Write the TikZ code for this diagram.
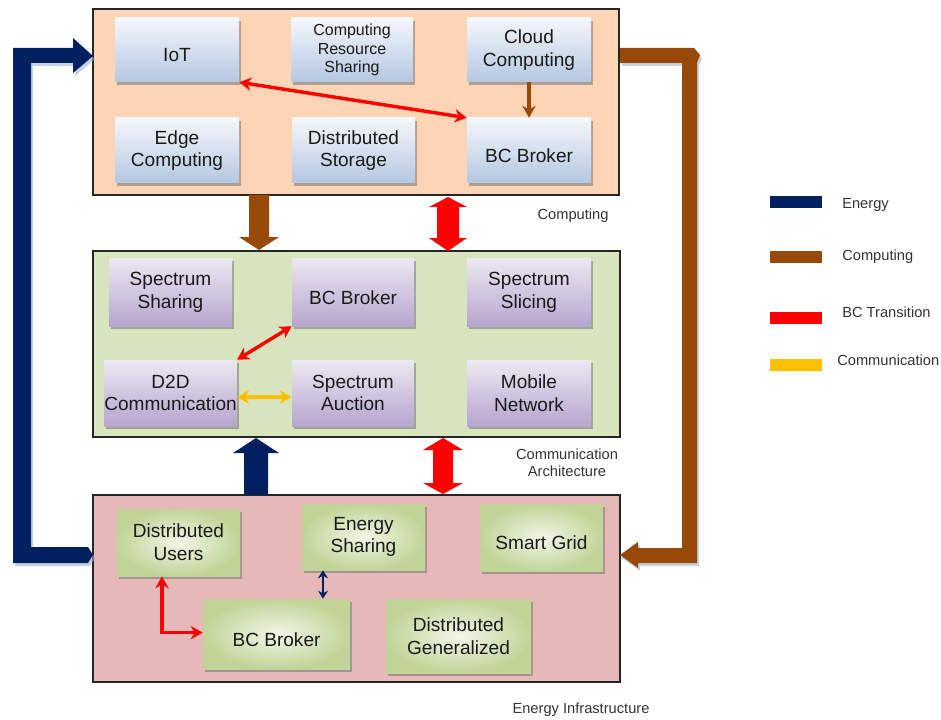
\documentclass[tikz,border=0pt]{standalone}
\usepackage{fontspec}
\setmainfont{Liberation Sans}
\usetikzlibrary{arrows.meta,shadows}
\definecolor{navy}{HTML}{002060}
\definecolor{brn}{HTML}{984807}
\definecolor{redc}{HTML}{FF0000}
\definecolor{gold}{HTML}{FFC000}
\definecolor{peach}{HTML}{FBD5B5}
\definecolor{lgreen}{HTML}{D7E4BD}
\definecolor{pinkc}{HTML}{E6B9B8}
\definecolor{txt}{HTML}{1A1A1A}
\definecolor{lbltxt}{HTML}{333333}
\definecolor{bluetop}{HTML}{F5F7FB}
\definecolor{bluebot}{HTML}{B4C7E1}
\definecolor{purtop}{HTML}{ECE8F2}
\definecolor{purbot}{HTML}{B6A5CE}
\definecolor{grin}{HTML}{F2F6E8}
\definecolor{grout}{HTML}{C0D497}
\definecolor{shad}{HTML}{9FB3C8}
\newcommand{\oneline}[1]{\raisebox{-4pt}[\height][\depth]{#1}}
\tikzset{
  panel/.style={draw=black!85, line width=1.1pt, inner sep=0pt},
  boxbase/.style={inner sep=0pt, align=center, text=txt,
     font=\fontsize{14.3}{17}\selectfont,
     drop shadow={shadow xshift=1.6pt, shadow yshift=-2.4pt, fill=black!55, opacity=0.55}},
  bluebox/.style={boxbase, top color=bluetop, bottom color=bluebot},
  purplebox/.style={boxbase, top color=purtop, bottom color=purbot},
  greenbox/.style={boxbase, inner color=grin, outer color=grout},
  lbl/.style={text=lbltxt, font=\fontsize{11}{13}\selectfont, align=center, inner sep=0pt},
  legbar/.style={minimum width=39pt, minimum height=9pt, inner sep=0pt},
  thinred/.style={draw=redc, line width=2.6pt, {Stealth[length=9pt,width=10pt]}-{Stealth[length=9pt,width=10pt]}},
}
\begin{document}
\begin{tikzpicture}[x=0.75pt,y=-0.75pt]
\useasboundingbox (0,0) rectangle (941,720);
\fill[white] (0,0) rectangle (941,720);

% panels
\node[panel, fill=peach, minimum width=394.5pt, minimum height=139.5pt] (ptop) at (356,102) {};
\node[panel, fill=lgreen, minimum width=395.25pt, minimum height=139.5pt] (pmid) at (356.5,344) {};
\node[panel, fill=pinkc, minimum width=395.25pt, minimum height=140.25pt] (pbot) at (356.5,588.5) {};

% top boxes
\node[bluebox, minimum width=93pt, minimum height=48pt] (iot) at (177,50) {\oneline{IoT}};
\node[bluebox, minimum width=91.5pt, minimum height=48pt, font=\fontsize{12}{14}\selectfont] (crs) at (352,50) {Computing\\Resource\\Sharing};
\node[bluebox, minimum width=93pt, minimum height=48pt] (cloud) at (529,50) {Cloud\\Computing};
\node[bluebox, minimum width=93pt, minimum height=48.75pt] (edge) at (177,150.5) {Edge\\Computing};
\node[bluebox, minimum width=92.25pt, minimum height=48.75pt] (dstor) at (353.5,150.5) {Distributed\\Storage};
\node[bluebox, minimum width=93pt, minimum height=48.75pt] (bcb1) at (529,150.5) {\oneline{BC Broker}};

% middle boxes
\node[purplebox, minimum width=92.25pt, minimum height=51pt] (ssh) at (170.5,292) {Spectrum\\Sharing};
\node[purplebox, minimum width=91.5pt, minimum height=51pt] (bcb2) at (353,292) {\oneline{BC Broker}};
\node[purplebox, minimum width=93pt, minimum height=51pt] (ssl) at (529,292) {Spectrum\\Slicing};
\node[purplebox, minimum width=92.25pt, minimum height=49.5pt] (d2d) at (170.5,393) {D2D\\Communication};
\node[purplebox, minimum width=91.5pt, minimum height=49.5pt] (sau) at (353,393) {Spectrum\\Auction};
\node[purplebox, minimum width=93pt, minimum height=49.5pt] (mob) at (529,393) {Mobile\\Network};

% bottom boxes
\node[greenbox, minimum width=92.25pt, minimum height=50.25pt] (du) at (178.5,542.5) {Distributed\\Users};
\node[greenbox, minimum width=92.25pt, minimum height=49.5pt] (es) at (363.5,537) {Energy\\Sharing};
\node[greenbox, minimum width=92.25pt, minimum height=50.25pt] (sg) at (541.5,537.5) {\oneline{Smart Grid}};
\node[greenbox, minimum width=110.25pt, minimum height=52.5pt] (bcb3) at (276.5,634) {\oneline{BC Broker}};
\node[greenbox, minimum width=108.75pt, minimum height=55.5pt] (dg) at (458.5,636) {Distributed\\Generalized};

% thin connectors
\draw[thinred] (iot.south east) -- (bcb1.north west);
\draw[draw=brn, line width=2.6pt, -{Stealth[length=9pt,width=10pt]}] (cloud.south) -- (bcb1.north);
\draw[thinred] (bcb2.south west) -- (d2d.north east);
\draw[draw=gold, line width=2.6pt, {Stealth[length=9pt,width=10pt]}-{Stealth[length=9pt,width=10pt]}] ([yshift=-3pt]d2d.east) -- ([yshift=-3pt]sau.west);
\draw[thinred] ([xshift=-12.4pt]du.south) |- ([yshift=1pt]bcb3.west);
\draw[draw=navy, line width=1.5pt, {Stealth[length=6pt,width=7.5pt]}-{Stealth[length=6pt,width=7.5pt]}] ([xshift=-30.4pt]es.south) -- ([xshift=-30.4pt]es.south |- bcb3.north);

% block arrows between panels
\fill[brn] (249,195) -- (269,195) -- (269,237) -- (279,237) -- (259,250) -- (239,237) -- (249,237) -- cycle;
\fill[redc] (448,197) -- (467,207) -- (459,207) -- (459,238) -- (467,238) -- (448,251) -- (429,238) -- (437,238) -- (437,207) -- (429,207) -- cycle;
\fill[navy] (256,438) -- (279,453) -- (268,453) -- (268,495) -- (244,495) -- (244,453) -- (233,453) -- cycle;
\fill[redc] (443,438) -- (463,450) -- (453,450) -- (453,483) -- (463,483) -- (443,494) -- (423,483) -- (433,483) -- (433,450) -- (423,450) -- cycle;

% big L arrows (shadow + arrow)
\fill[shad, opacity=0.6, shift={(2,3)}] (13,48) -- (73,48) -- (73,38) -- (93,56) -- (73,73) -- (73,63) -- (31,63) -- (31,547) -- (88,547) -- (93,555) -- (88,563) -- (13,563) -- cycle;
\fill[navy] (13,48) -- (73,48) -- (73,38) -- (93,56) -- (73,73) -- (73,63) -- (31,63) -- (31,547) -- (88,547) -- (93,555) -- (88,563) -- (13,563) -- cycle;
\fill[shad, opacity=0.6, shift={(2,3)}] (620,48) -- (694,48) -- (700,55) -- (697,63) -- (697,563) -- (638,563) -- (638,568) -- (620,555) -- (638,542) -- (638,548) -- (682,548) -- (682,63) -- (620,63) -- cycle;
\fill[brn] (620,48) -- (694,48) -- (700,55) -- (697,63) -- (697,563) -- (638,563) -- (638,568) -- (620,555) -- (638,542) -- (638,548) -- (682,548) -- (682,63) -- (620,63) -- cycle;

% panel labels
\node[lbl] (lcomp) at (573,216) {Computing};
\node[lbl] (lcomm) at (567,463) {Communication\\Architecture};
\node[lbl] (lener) at (581,710) {Energy Infrastructure};

% legend
\node[legbar, fill=navy] (lg1) at (796,202) {};
\node[legbar, fill=brn] (lg2) at (796,257) {};
\node[legbar, fill=redc] (lg3) at (796,317.5) {};
\node[legbar, fill=gold] (lg4) at (796,365) {};
\node[lbl, anchor=west] (lt1) at (842,205) {Energy};
\node[lbl, anchor=west] (lt2) at (842,257) {Computing};
\node[lbl, anchor=west] (lt3) at (842,312) {BC Transition};
\node[lbl, anchor=west] (lt4) at (837,360) {Communication};
\end{tikzpicture}
\end{document}
